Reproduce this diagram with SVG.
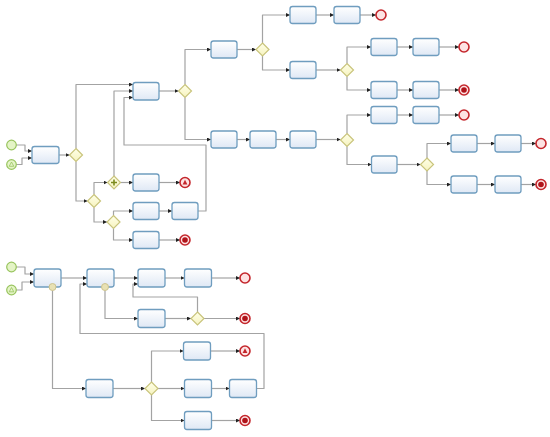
<svg xmlns="http://www.w3.org/2000/svg" width="550" height="437" viewBox="0 0 550 437">
<defs>
<linearGradient id="tg" x1="0" y1="0" x2="0" y2="1"><stop offset="0" stop-color="#ffffff"/><stop offset="1" stop-color="#dfe8f5"/></linearGradient>
<linearGradient id="gg" x1="0" y1="0" x2="0" y2="1"><stop offset="0" stop-color="#ffffe8"/><stop offset="1" stop-color="#f6f3bf"/></linearGradient>
<marker id="ar" markerUnits="userSpaceOnUse" markerWidth="4" markerHeight="4" refX="4" refY="2" orient="auto"><path d="M0,0 L4,2 L0,4 z" fill="#222"/></marker>
</defs>
<style>
.t{fill:url(#tg);stroke:#6f9dbf;stroke-width:1.3}
.g{fill:url(#gg);stroke:#c9c47c;stroke-width:1.2}
.s{fill:#e4f4c6;stroke:#98c45e;stroke-width:1.2}
.e{fill:#fde3e3;stroke:#c4262c;stroke-width:1.6}
.b{fill:#e8e1b4;stroke:#cdc38e;stroke-width:1}
.c path{fill:none;stroke:#a3a3a3;stroke-width:1.2;stroke-linejoin:round;marker-end:url(#ar)}
.c path.n{marker-end:none}
</style>
<rect width="550" height="437" fill="#ffffff"/>
<g class="c" id="connectors">
<path d="M16,145 H25 V151 H32"/>
<path d="M16,164.5 H22 V158 H32"/>
<path d="M59,155 H69.5"/>
<path d="M76,148.5 V84.5 H133"/>
<path d="M76,161.5 V201 H87.5"/>
<path d="M94,194.5 V182.5 H107.5"/>
<path d="M94,207.5 V222 H107"/>
<path d="M113.5,215.5 V211 H133"/>
<path d="M113.5,228.5 V240 H133"/>
<path d="M114,176 V91 H133"/>
<path d="M120.5,182.5 H133"/>
<path d="M159,182.5 H180"/>
<path d="M159,211 H172"/>
<path d="M198,211 H206 V145 H124 V97.5 H133"/>
<path d="M159,240 H180"/>
<path d="M159,91 H178.5"/>
<path d="M185,84.5 V49.5 H211"/>
<path d="M185,97.5 V139.5 H211"/>
<path d="M237,49.5 H256"/>
<path d="M262.5,43 V15 H290"/>
<path d="M316,15 H334"/>
<path d="M360,15 H376"/>
<path d="M262.5,56 V70 H290"/>
<path d="M316,70 H340.5"/>
<path d="M347,63.5 V47 H371"/>
<path d="M397,47 H413"/>
<path d="M439,47 H459"/>
<path d="M347,76.5 V90 H371"/>
<path d="M397,90 H413"/>
<path d="M439,90 H459"/>
<path d="M237,139.5 H250"/>
<path d="M276,139.5 H290"/>
<path d="M316,139.5 H340.5"/>
<path d="M347,133.5 V115 H371"/>
<path d="M397,115 H413"/>
<path d="M439,115 H459"/>
<path d="M347,146.5 V164.5 H371.5"/>
<path d="M397,164.5 H420.5"/>
<path d="M427,158 V143.5 H451"/>
<path d="M477,143.5 H495"/>
<path d="M521,143.5 H536"/>
<path d="M427,171 V184.5 H451"/>
<path d="M477,184.5 H495"/>
<path d="M521,184.5 H536"/>
<path d="M16,267 H25 V274 H34"/>
<path d="M16,290 H22 V282 H34"/>
<path d="M61,278 H87"/>
<path d="M52.5,290.5 V388.5 H86"/>
<path d="M105,290.5 V318.5 H138"/>
<path d="M114,278 H138"/>
<path d="M165,278 H184.5"/>
<path d="M211.5,278 H240"/>
<path d="M165,318.5 H191"/>
<path d="M204,318.5 H240"/>
<path d="M197.5,312 V297 H133 V284 H138"/>
<path d="M113,388.5 H145"/>
<path d="M151.5,382 V351 H183.5"/>
<path d="M210.5,351 H240"/>
<path d="M158,388.5 H184.5"/>
<path d="M211.5,388.5 H229.5"/>
<path d="M256.5,388.5 H264 V333.5 H80 V284 H87"/>
<path d="M151.5,395 V420.5 H184.5"/>
<path d="M211.5,420.5 H240"/>
</g>
<g id="start1"><circle class="s" cx="11.5" cy="145" r="4.8"/></g>
<g id="start2"><circle class="s" cx="11.5" cy="164.5" r="4.8"/><path d="M11.5,162 L13.8,166.3 H9.2 Z" fill="none" stroke="#98c45e" stroke-width="0.8"/></g>
<g id="task1"><rect class="t" x="32" y="146.5" width="27" height="17" rx="2.5"/></g>
<g id="gw1"><path class="g" d="M76,148.5 L82.5,155 L76,161.5 L69.5,155 Z"/></g>
<g id="gw2"><path class="g" d="M94,194.5 L100.5,201 L94,207.5 L87.5,201 Z"/></g>
<g id="pgw"><path class="g" d="M114,176 L120.5,182.5 L114,189 L107.5,182.5 Z"/><path d="M114,179.5 V185.5 M111,182.5 H117" stroke="#7c8a1e" stroke-width="1.6"/></g>
<g id="gw3"><path class="g" d="M113.5,215.5 L120,222 L113.5,228.5 L107,222 Z"/></g>
<g id="task2"><rect class="t" x="133" y="82.5" width="26" height="17.5" rx="2.5"/></g>
<g id="taskPg"><rect class="t" x="133" y="174" width="26" height="17" rx="2.5"/></g>
<g id="endEsc1"><circle class="e" cx="185" cy="182.5" r="5"/><path d="M185,179.8 L187.4,184.6 H182.6 Z" fill="#c4262c"/></g>
<g id="taskG3a"><rect class="t" x="133" y="202.5" width="26" height="17" rx="2.5"/></g>
<g id="taskG3b"><rect class="t" x="172" y="202.5" width="26" height="17" rx="2.5"/></g>
<g id="taskG3c"><rect class="t" x="133" y="231.5" width="26" height="17" rx="2.5"/></g>
<g id="endTerm1"><circle class="e" cx="185" cy="240" r="5"/><circle cx="185" cy="240" r="2.8" fill="#b0141a"/></g>
<g id="gw4"><path class="g" d="M185,84.5 L191.5,91 L185,97.5 L178.5,91 Z"/></g>
<g id="task3"><rect class="t" x="211" y="41" width="26" height="17" rx="2.5"/></g>
<g id="gw5"><path class="g" d="M262.5,43 L269,49.5 L262.5,56 L256,49.5 Z"/></g>
<g id="task5"><rect class="t" x="290" y="6.5" width="26" height="17" rx="2.5"/></g>
<g id="task6"><rect class="t" x="334" y="6.5" width="26" height="17" rx="2.5"/></g>
<g id="end1"><circle class="e" cx="381" cy="15" r="5"/></g>
<g id="task7"><rect class="t" x="290" y="61.5" width="26" height="17" rx="2.5"/></g>
<g id="gw6"><path class="g" d="M347,63.5 L353.5,70 L347,76.5 L340.5,70 Z"/></g>
<g id="task8"><rect class="t" x="371" y="38.5" width="26" height="17" rx="2.5"/></g>
<g id="task9"><rect class="t" x="413" y="38.5" width="26" height="17" rx="2.5"/></g>
<g id="end2"><circle class="e" cx="464" cy="47" r="5"/></g>
<g id="task10"><rect class="t" x="371" y="81.5" width="26" height="17" rx="2.5"/></g>
<g id="task11"><rect class="t" x="413" y="81.5" width="26" height="17" rx="2.5"/></g>
<g id="endTerm2"><circle class="e" cx="464" cy="90" r="5"/><circle cx="464" cy="90" r="2.8" fill="#b0141a"/></g>
<g id="task4"><rect class="t" x="211" y="131" width="26" height="17" rx="2.5"/></g>
<g id="task12"><rect class="t" x="250" y="131" width="26" height="17" rx="2.5"/></g>
<g id="task13"><rect class="t" x="290" y="131" width="26" height="17" rx="2.5"/></g>
<g id="gw7"><path class="g" d="M347,133.5 L353.5,140 L347,146.5 L340.5,140 Z"/></g>
<g id="task14"><rect class="t" x="371" y="106.5" width="26" height="17" rx="2.5"/></g>
<g id="task15"><rect class="t" x="413" y="106.5" width="26" height="17" rx="2.5"/></g>
<g id="end3"><circle class="e" cx="464" cy="115" r="5"/></g>
<g id="task16"><rect class="t" x="371.5" y="156" width="25.5" height="17" rx="2.5"/></g>
<g id="gw8"><path class="g" d="M427,158 L433.5,164.5 L427,171 L420.5,164.5 Z"/></g>
<g id="task17"><rect class="t" x="451" y="135" width="26" height="17" rx="2.5"/></g>
<g id="task18"><rect class="t" x="495" y="135" width="26" height="17" rx="2.5"/></g>
<g id="end4"><circle class="e" cx="541" cy="143.5" r="5"/></g>
<g id="task19"><rect class="t" x="451" y="176" width="26" height="17" rx="2.5"/></g>
<g id="task20"><rect class="t" x="495" y="176" width="26" height="17" rx="2.5"/></g>
<g id="endTerm3"><circle class="e" cx="541" cy="184.5" r="5"/><circle cx="541" cy="184.5" r="2.8" fill="#b0141a"/></g>
<g id="start3"><circle class="s" cx="11.5" cy="267" r="4.8"/></g>
<g id="start4"><circle class="s" cx="11.5" cy="290" r="4.8"/><path d="M11.5,287.5 L13.8,291.8 H9.2 Z" fill="none" stroke="#98c45e" stroke-width="0.8"/></g>
<g id="taskA"><rect class="t" x="34" y="269" width="27" height="18" rx="2.5"/><circle class="b" cx="52.5" cy="287" r="3.5"/></g>
<g id="taskB"><rect class="t" x="87" y="269" width="27" height="18" rx="2.5"/><circle class="b" cx="105" cy="287" r="3.5"/></g>
<g id="taskC"><rect class="t" x="138" y="269" width="27" height="18" rx="2.5"/></g>
<g id="taskD"><rect class="t" x="184.5" y="269" width="27" height="18" rx="2.5"/></g>
<g id="end5"><circle class="e" cx="245" cy="278" r="5"/></g>
<g id="taskE"><rect class="t" x="138" y="309.5" width="27" height="18" rx="2.5"/></g>
<g id="gw10"><path class="g" d="M197.5,312 L204,318.5 L197.5,325 L191,318.5 Z"/></g>
<g id="endTerm4"><circle class="e" cx="245" cy="318.5" r="5"/><circle cx="245" cy="318.5" r="2.8" fill="#b0141a"/></g>
<g id="taskF"><rect class="t" x="86" y="379.5" width="27" height="18" rx="2.5"/></g>
<g id="gw9"><path class="g" d="M151.5,382 L158,388.5 L151.5,395 L145,388.5 Z"/></g>
<g id="taskG"><rect class="t" x="183.5" y="342" width="27" height="18" rx="2.5"/></g>
<g id="endEsc2"><circle class="e" cx="245" cy="351" r="5"/><path d="M245,348.3 L247.4,353.1 H242.6 Z" fill="#c4262c"/></g>
<g id="taskH"><rect class="t" x="184.5" y="379.5" width="27" height="18" rx="2.5"/></g>
<g id="taskI"><rect class="t" x="229.5" y="379.5" width="27" height="18" rx="2.5"/></g>
<g id="taskJ"><rect class="t" x="184.5" y="411.5" width="27" height="18" rx="2.5"/></g>
<g id="endTerm5"><circle class="e" cx="245" cy="420.5" r="5"/><circle cx="245" cy="420.5" r="2.8" fill="#b0141a"/></g>
</svg>
